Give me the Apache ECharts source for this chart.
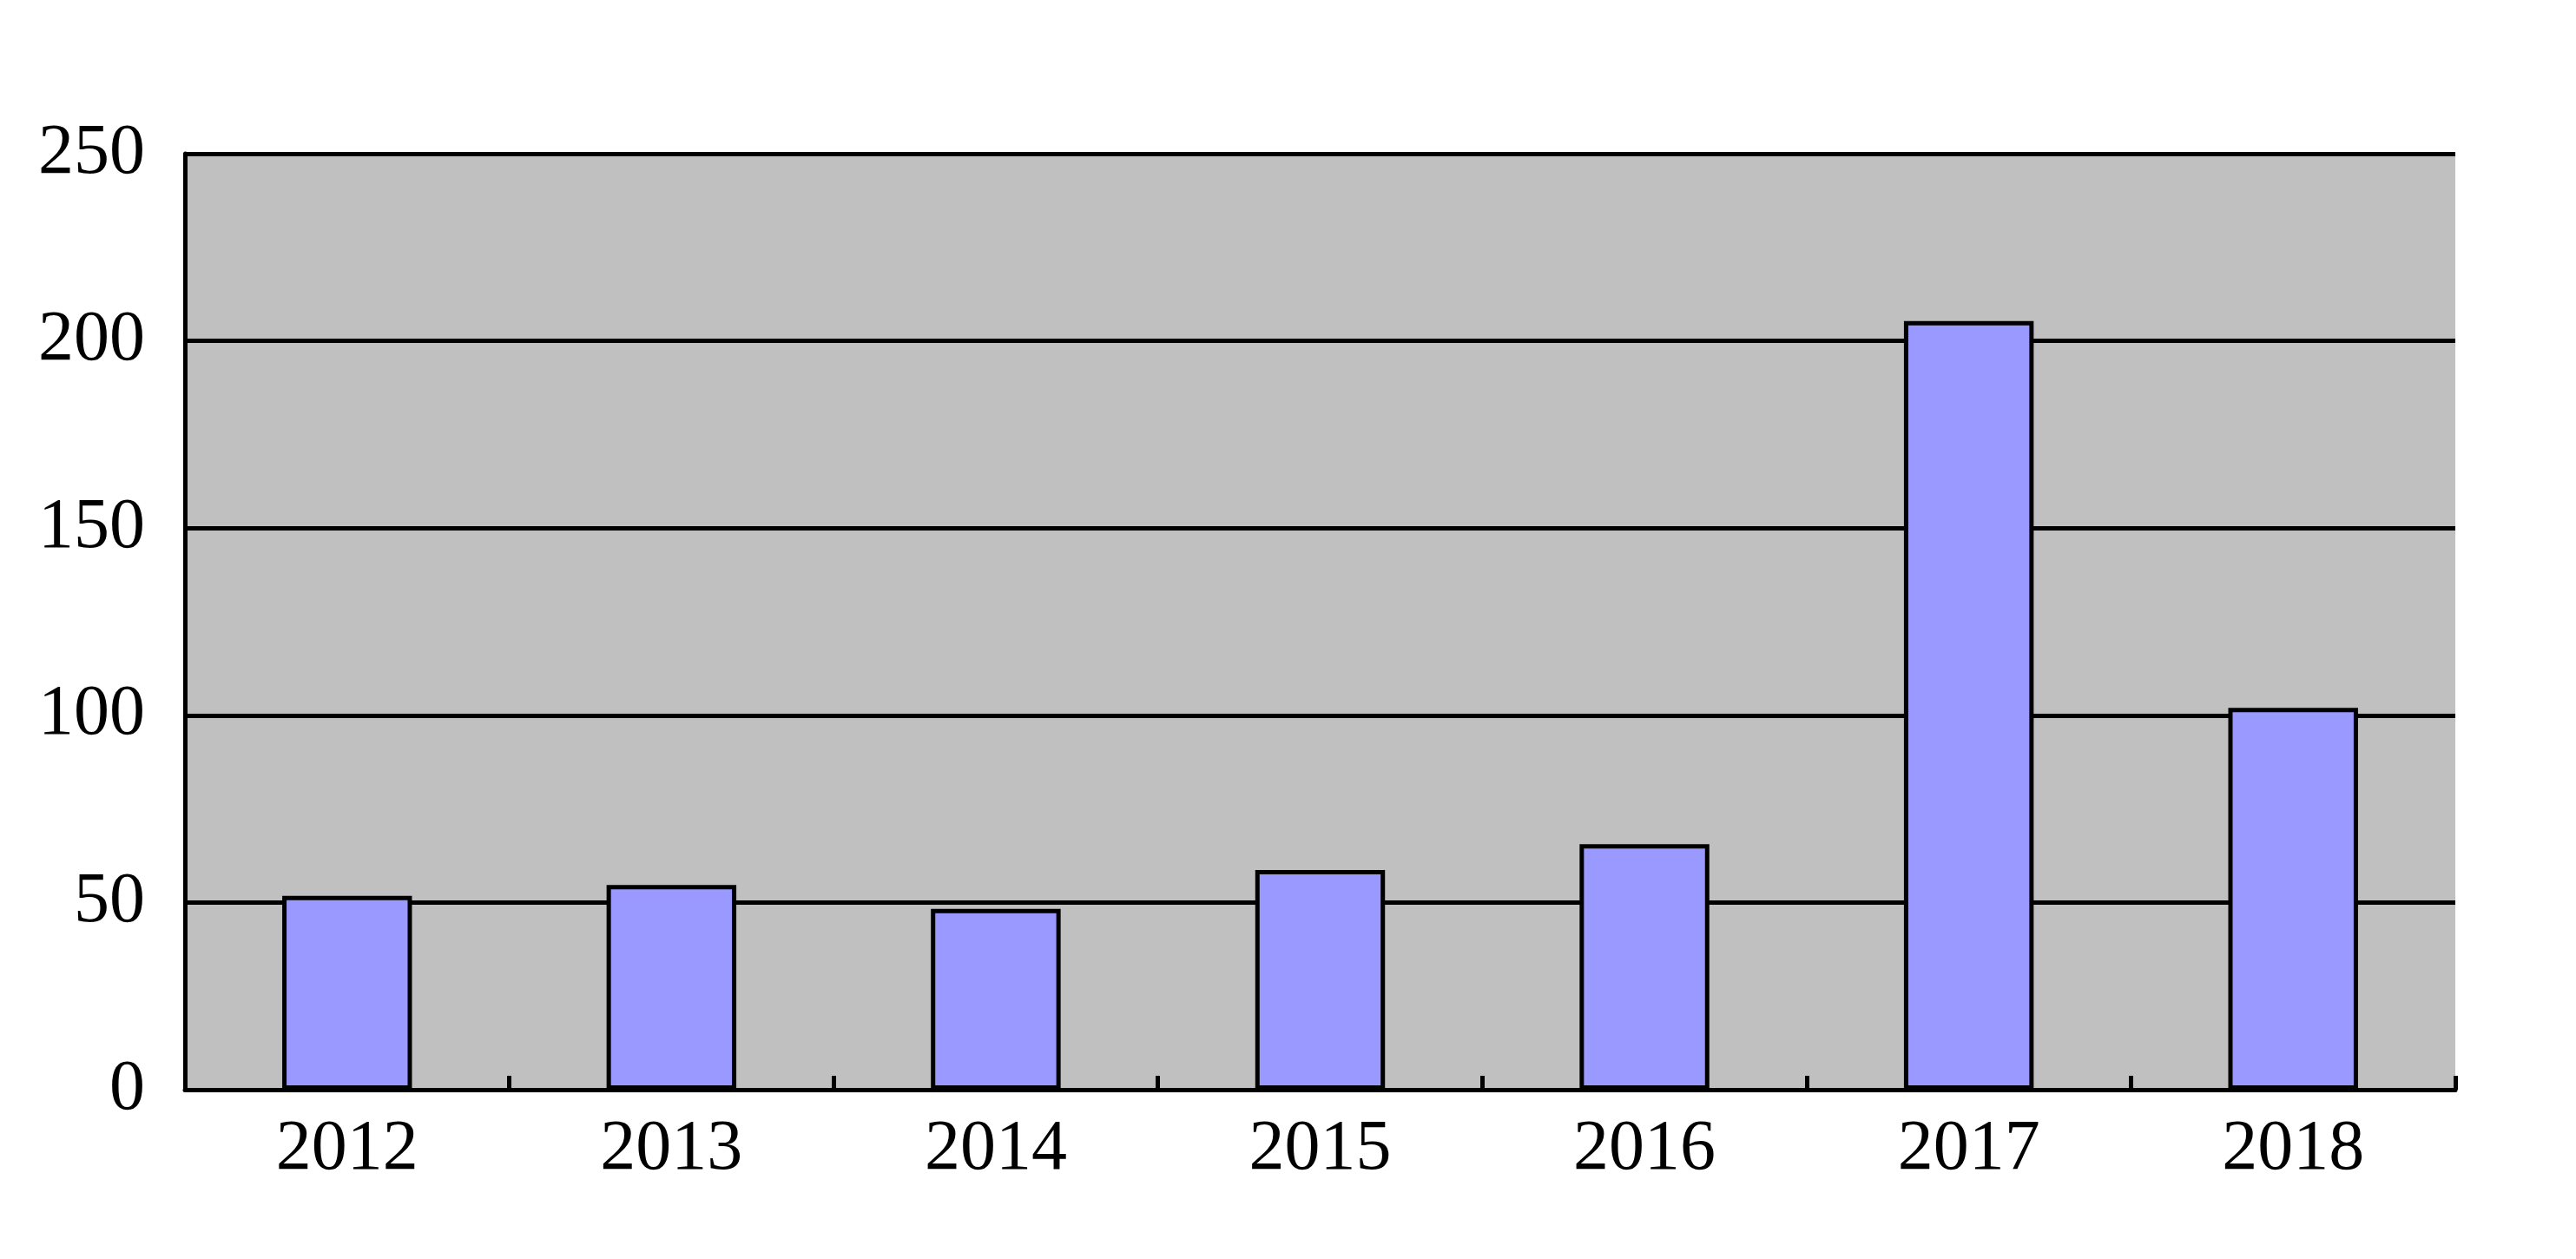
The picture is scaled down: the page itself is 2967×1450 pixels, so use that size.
<!DOCTYPE html>
<html>
<head>
<meta charset="utf-8">
<style>
html,body{margin:0;padding:0;background:#fff;}
#c{width:2967px;height:1450px;}
</style>
<script src="https://cdn.jsdelivr.net/npm/echarts@6/dist/echarts.min.js"></script>
</head>
<body>
<div id="c"></div>
<script>
const years = ['2012','2013','2014','2015','2016','2017','2018'];
const values = [51.8, 54.7, 48.3, 58.7, 65.6, 205.3, 102];
const yTicks = {min: 0, max: 250, interval: 50};

const chart = echarts.init(document.getElementById('c'));
chart.setOption({
  animation: false,
  backgroundColor: '#ffffff',
  grid: {
    left: 213, right: 139, top: 177, bottom: 195,
    show: true, backgroundColor: '#C0C0C0', borderWidth: 0
  },
  xAxis: {
    type: 'category',
    data: years,
    boundaryGap: true,
    axisLine: {show: true, lineStyle: {color: '#000', width: 5}},
    axisTick: {show: true, inside: true, length: 16, lineStyle: {color: '#000', width: 5}},
    axisLabel: {color: '#000', fontFamily: 'Liberation Serif', fontSize: 82, margin: 28},
    splitLine: {show: false}
  },
  yAxis: {
    type: 'value',
    min: yTicks.min, max: yTicks.max, interval: yTicks.interval,
    axisLine: {show: true, lineStyle: {color: '#000', width: 5}},
    axisTick: {show: false},
    axisLabel: {color: '#000', fontFamily: 'Liberation Serif', fontSize: 82, margin: 46},
    splitLine: {show: true, lineStyle: {color: '#000', width: 5}}
  },
  series: [{
    type: 'bar',
    data: values,
    barWidth: '40%',
    itemStyle: {color: '#9999FF', borderColor: '#000', borderWidth: 5}
  }]
});
</script>
</body>
</html>
